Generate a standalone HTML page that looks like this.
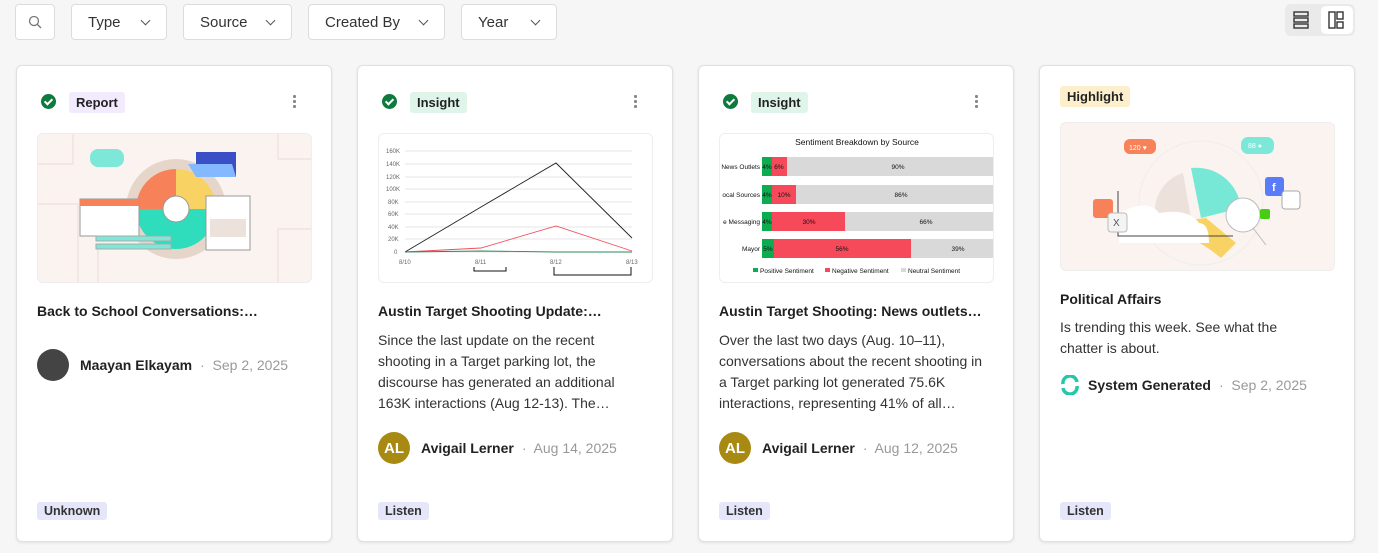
<!DOCTYPE html>
<html><head><meta charset="utf-8"><style>
*{box-sizing:border-box;margin:0;padding:0}
body{width:1378px;height:553px;background:#f6f6f6;font-family:"Liberation Sans",sans-serif;color:#1f1f1f;position:relative;overflow:hidden}
.a{position:absolute}
.btn{position:absolute;top:4px;height:36px;background:#fff;border:1px solid #dcdcdc;border-radius:4px;font-size:15px;color:#333;display:flex;align-items:center;padding-left:16px}
.btn .c{position:absolute;right:17px;top:12px;width:7px;height:7px;border-right:1.2px solid #555;border-bottom:1.2px solid #555;transform:rotate(45deg)}
.card{position:absolute;top:65px;width:316px;height:477px;background:#fff;border:1px solid #e0e0e0;border-radius:6px;box-shadow:0 1px 3px rgba(0,0,0,.08)}
.chk{position:absolute;left:24px;top:28px;width:15px;height:15px;border-radius:50%;background:#0d7a3e}
.chk:after{content:"";position:absolute;left:5px;top:3px;width:3px;height:6px;border-right:2px solid #fff;border-bottom:2px solid #fff;transform:rotate(45deg)}
.tag{position:absolute;font-size:13px;font-weight:bold;padding:3px 7px;border-radius:3px;color:#222}
.dots{position:absolute;right:35px;top:28px;width:3px;height:15px;background:radial-gradient(circle,#888 1.5px,transparent 1.6px) 0 0/3px 5px repeat-y}
.img{position:absolute;left:20px;top:67px;width:275px;height:150px;border-radius:6px;border:1px solid #eee;overflow:hidden}
.tt{position:absolute;left:20px;top:237px;font-size:14px;font-weight:bold;white-space:nowrap}
.ds{position:absolute;left:20px;width:272px;font-size:14px;line-height:21px;color:#333}
.au{position:absolute;left:20px;display:flex;align-items:center;font-size:14px;white-space:nowrap}
.av{width:32px;height:32px;border-radius:50%;margin-right:11px;color:#fff;font-weight:bold;font-size:15px;display:flex;align-items:center;justify-content:center}
.au b{color:#222}.au span{color:#999;margin-left:8px}
.bt{position:absolute;left:20px;top:436px;background:#e6e6fb;font-size:12.5px;font-weight:bold;padding:2px 7px;border-radius:3px;color:#333}
</style></head><body>
<div class="btn" style="left:15px;width:40px;padding:0"><svg class="a" style="left:12px;top:10px" width="14" height="14"><circle cx="6" cy="6" r="4.5" fill="none" stroke="#777" stroke-width="1.3"/><line x1="9.5" y1="9.5" x2="13" y2="13" stroke="#777" stroke-width="1.3"/></svg></div>
<div class="btn" style="left:71px;width:96px">Type<i class="c"></i></div>
<div class="btn" style="left:183px;width:109px">Source<i class="c"></i></div>
<div class="btn" style="left:308px;width:137px">Created By<i class="c"></i></div>
<div class="btn" style="left:461px;width:96px">Year<i class="c"></i></div>
<div class="a" style="left:1285px;top:4px;width:70px;height:32px;background:#eaeaea;border-radius:6px"></div>
<div class="a" style="left:1321px;top:6px;width:32px;height:28px;background:#fff;border-radius:5px"></div>
<svg class="a" style="left:1292px;top:11px" width="60" height="18"><g fill="none" stroke="#333" stroke-width="1.4"><rect x="2" y="1" width="14" height="4"/><rect x="2" y="7" width="14" height="4"/><rect x="2" y="13" width="14" height="4"/><rect x="37" y="1" width="6" height="16"/><rect x="45" y="1" width="6" height="7"/><rect x="45" y="11" width="6" height="6"/></g></svg>

<!-- card1 -->
<div class="card" style="left:16px">
<div class="chk"></div><div class="tag" style="left:52px;top:26px;background:#f1ebfd">Report</div><div class="dots"></div>
<div class="img" style="background:#faf3f0">
<svg width="275" height="150"><g fill="none" stroke="#eadbd3"><path d="M35 0V30H0M0 70h40v80M240 0v25h35M240 150V95h35M60 150v-40h30"/></g>
<rect x="52" y="15" width="34" height="18" rx="8" fill="#7de8d8"/>
<circle cx="138" cy="75" r="50" fill="#e6d6ca"/>
<path d="M138 75V35A40 40 0 0 1 178 75Z" fill="#f8d263"/><path d="M138 75H98A40 40 0 0 1 138 35Z" fill="#f78159"/><path d="M98 75h80A40 40 0 0 1 98 75Z" fill="#2fdcbc"/>
<circle cx="138" cy="75" r="13" fill="#fff" stroke="#999"/>
<path d="M158 18h40v25h-40z" fill="#3a4fc6"/><path d="M150 30h44l4 13h-40z" fill="#85b9ff"/>
<rect x="42" y="65" width="59" height="37" fill="#fff" stroke="#999"/><rect x="42" y="65" width="59" height="7" fill="#f78159"/>
<rect x="168" y="62" width="44" height="54" fill="#fff" stroke="#999"/><rect x="172" y="85" width="36" height="18" fill="#ece2db"/>
<rect x="58" y="102" width="75" height="5" fill="#7de8d8" stroke="#aaa"/><rect x="58" y="110" width="75" height="5" fill="#7de8d8" stroke="#aaa"/></svg></div>
<div class="tt">Back to School Conversations:…</div>
<div class="au" style="top:283px"><div class="av" style="background:#444"></div><b>Maayan Elkayam</b><span>·&nbsp; Sep 2, 2025</span></div>
<div class="bt">Unknown</div>
</div>

<!-- card2 -->
<div class="card" style="left:357px">
<div class="chk"></div><div class="tag" style="left:52px;top:26px;background:#dff5ea">Insight</div><div class="dots"></div>
<div class="img" style="background:#fff">
<svg width="275" height="150" font-size="6" fill="#666" font-family="Liberation Sans"><g stroke="#e6e6e6">
<line x1="26" y1="17" x2="253" y2="17"/><line x1="26" y1="30" x2="253" y2="30"/><line x1="26" y1="43" x2="253" y2="43"/><line x1="26" y1="55" x2="253" y2="55"/><line x1="26" y1="68" x2="253" y2="68"/><line x1="26" y1="80" x2="253" y2="80"/><line x1="26" y1="93" x2="253" y2="93"/><line x1="26" y1="105" x2="253" y2="105"/><line x1="26" y1="118" x2="253" y2="118"/></g>
<text x="7" y="19">160K</text><text x="7" y="32">140K</text><text x="7" y="45">120K</text><text x="7" y="57">100K</text><text x="9" y="70">80K</text><text x="9" y="82">60K</text><text x="9" y="95">40K</text><text x="9" y="107">20K</text><text x="15" y="120">0</text>
<text x="20" y="130">8/10</text><text x="96" y="130">8/11</text><text x="171" y="130">8/12</text><text x="247" y="130">8/13</text>
<polyline points="26,118 102,73 177,29 253,104" fill="none" stroke="#222" stroke-width=".9"/>
<polyline points="26,118 102,114 177,92 253,117" fill="none" stroke="#f0505e" stroke-width=".9"/>
<polyline points="26,118 102,117 177,118 253,118" fill="none" stroke="#2a8a5a" stroke-width=".9"/>
<path d="M95 133v4h32v-4M175 133v8h77v-8" fill="none" stroke="#111"/></svg></div>
<div class="tt">Austin Target Shooting Update:…</div>
<div class="ds" style="top:264px">Since the last update on the recent shooting in a Target parking lot, the discourse has generated an additional 163K interactions (Aug 12-13). The…</div>
<div class="au" style="top:366px"><div class="av" style="background:#a88a12">AL</div><b>Avigail Lerner</b><span>·&nbsp; Aug 14, 2025</span></div>
<div class="bt">Listen</div>
</div>

<!-- card3 -->
<div class="card" style="left:698px">
<div class="chk"></div><div class="tag" style="left:52px;top:26px;background:#dff5ea">Insight</div><div class="dots"></div>
<div class="img" style="background:#fff">
<svg width="275" height="150" font-size="6.5" fill="#111" font-family="Liberation Sans"><text x="137" y="11" text-anchor="middle" font-size="8.5">Sentiment Breakdown by Source</text>
<g text-anchor="end" font-size="6.5"><text x="40" y="35">News Outlets</text><text x="40" y="63">ocal Sources</text><text x="40" y="90">e Messaging</text><text x="40" y="117">Mayor</text></g>
<rect x="42" y="23" width="233" height="19" fill="#d9d9d9"/><rect x="42" y="23" width="10" height="19" fill="#0dac50"/><rect x="52" y="23" width="15" height="19" fill="#f64a5a"/>
<rect x="42" y="51" width="233" height="19" fill="#d9d9d9"/><rect x="42" y="51" width="10" height="19" fill="#0dac50"/><rect x="52" y="51" width="24" height="19" fill="#f64a5a"/>
<rect x="42" y="78" width="233" height="19" fill="#d9d9d9"/><rect x="42" y="78" width="10" height="19" fill="#0dac50"/><rect x="52" y="78" width="73" height="19" fill="#f64a5a"/>
<rect x="42" y="105" width="233" height="19" fill="#d9d9d9"/><rect x="42" y="105" width="12" height="19" fill="#0dac50"/><rect x="54" y="105" width="137" height="19" fill="#f64a5a"/>
<g text-anchor="middle"><text x="47" y="35">4%</text><text x="59" y="35">6%</text><text x="178" y="35">90%</text><text x="47" y="63">4%</text><text x="64" y="63">10%</text><text x="181" y="63">86%</text><text x="47" y="90">4%</text><text x="89" y="90">30%</text><text x="206" y="90">66%</text><text x="48" y="117">5%</text><text x="122" y="117">56%</text><text x="238" y="117">39%</text></g>
<rect x="33" y="134" width="5" height="4" fill="#0dac50"/><text x="40" y="139">Positive Sentiment</text><rect x="105" y="134" width="5" height="4" fill="#f64a5a"/><text x="112" y="139">Negative Sentiment</text><rect x="181" y="134" width="5" height="4" fill="#d9d9d9"/><text x="188" y="139">Neutral Sentiment</text></svg></div>
<div class="tt">Austin Target Shooting: News outlets…</div>
<div class="ds" style="top:264px">Over the last two days (Aug. 10–11), conversations about the recent shooting in a Target parking lot generated 75.6K interactions, representing 41% of all…</div>
<div class="au" style="top:366px"><div class="av" style="background:#a88a12">AL</div><b>Avigail Lerner</b><span>·&nbsp; Aug 12, 2025</span></div>
<div class="bt">Listen</div>
</div>

<!-- card4 -->
<div class="card" style="left:1039px">
<div class="tag" style="left:20px;top:20px;background:#fdefcc">Highlight</div>
<div class="img" style="top:56px;height:149px;background:#faf3f0">
<svg width="275" height="149" font-family="Liberation Sans"><circle cx="140" cy="80" r="62" fill="none" stroke="#eee"/>
<path d="M122 50A40 40 0 0 0 95 98L130 95Z" fill="#ece2db"/><path d="M130 45A45 45 0 0 1 180 85L140 95Z" fill="#78e8d6"/><path d="M105 100L145 95L175 120L160 135Q130 110 105 110Z" fill="#f8d263"/>
<path d="M58 120h90q0-20-10-20q-10-15-40-10q-10-15-40 0z" fill="#fff"/><path d="M57 68v45h115" fill="none" stroke="#444"/>
<circle cx="182" cy="92" r="17" fill="#fff" stroke="#bbb"/><line x1="192" y1="105" x2="205" y2="122" stroke="#bbb"/>
<rect x="63" y="16" width="32" height="15" rx="6" fill="#f78159"/><text x="68" y="27" font-size="7" fill="#fff">120 ♥</text>
<rect x="180" y="14" width="33" height="17" rx="7" fill="#7de8d8"/><text x="187" y="25" font-size="7" fill="#fff">88 ●</text>
<rect x="32" y="76" width="20" height="19" rx="3" fill="#f78159"/><rect x="47" y="90" width="19" height="19" rx="3" fill="#f4f4f4" stroke="#bbb"/><text x="52" y="103" font-size="10" fill="#555">X</text>
<rect x="204" y="54" width="19" height="19" rx="3" fill="#5a7cf9"/><text x="211" y="68" font-size="11" fill="#fff" font-weight="bold">f</text>
<rect x="221" y="68" width="18" height="18" rx="3" fill="#fff" stroke="#aaa"/><rect x="199" y="86" width="10" height="10" rx="2" fill="#45cf10"/></svg></div>
<div class="tt" style="top:225px">Political Affairs</div>
<div class="ds" style="top:251px;width:250px">Is trending this week. See what the chatter is about.</div>
<div class="au" style="top:309px"><svg width="20" height="20" style="margin-right:8px"><path d="M3 9A7 7 0 0 1 17 7" fill="none" stroke="#25c7a8" stroke-width="3.5"/><path d="M17 11A7 7 0 0 1 3 13" fill="none" stroke="#25c7a8" stroke-width="3.5"/></svg><b>System Generated</b><span>·&nbsp; Sep 2, 2025</span></div>
<div class="bt">Listen</div>
</div>
</body></html>
